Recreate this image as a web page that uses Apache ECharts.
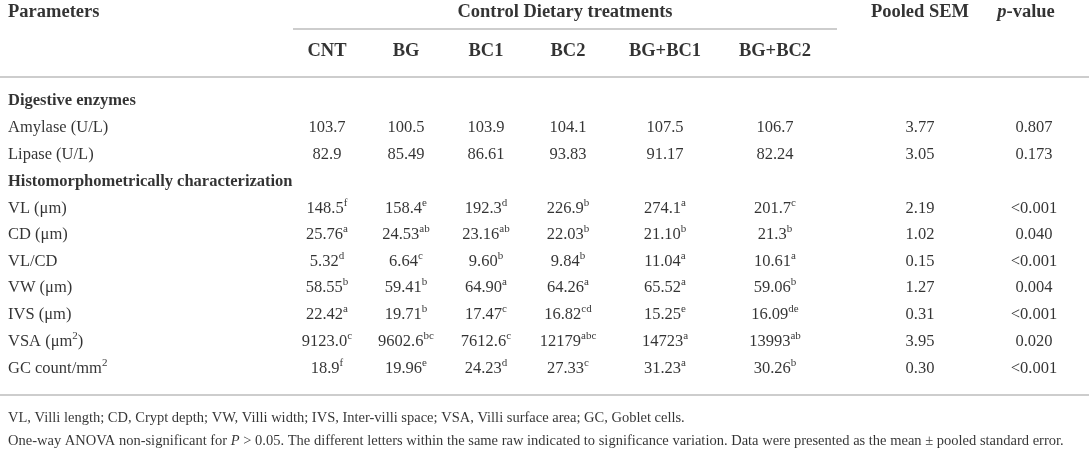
<!DOCTYPE html>
<html>
<head>
<meta charset="utf-8">
<script src="https://cdn.jsdelivr.net/npm/echarts@6/dist/echarts.min.js"></script>
<style>
  html, body { margin: 0; padding: 0; background: #fff; }
  #main { width: 1089px; height: 461px; }
</style>
</head>
<body>
<div id="main"></div>
<script>
// ---- table data ----
const treatments = ['CNT', 'BG', 'BC1', 'BC2', 'BG+BC1', 'BG+BC2'];
const sections = ['Digestive enzymes', 'Histomorphometrically characterization'];

const amylase = ['103.7', '100.5', '103.9', '104.1', '107.5', '106.7'];
const lipase = ['82.9', '85.49', '86.61', '93.83', '91.17', '82.24'];

const vl = ['148.5', '158.4', '192.3', '226.9', '274.1', '201.7'];
const vlSig = ['f', 'e', 'd', 'b', 'a', 'c'];
const cd = ['25.76', '24.53', '23.16', '22.03', '21.10', '21.3'];
const cdSig = ['a', 'ab', 'ab', 'b', 'b', 'b'];
const vlcd = ['5.32', '6.64', '9.60', '9.84', '11.04', '10.61'];
const vlcdSig = ['d', 'c', 'b', 'b', 'a', 'a'];
const vw = ['58.55', '59.41', '64.90', '64.26', '65.52', '59.06'];
const vwSig = ['b', 'b', 'a', 'a', 'a', 'b'];
const ivs = ['22.42', '19.71', '17.47', '16.82', '15.25', '16.09'];
const ivsSig = ['a', 'b', 'c', 'cd', 'e', 'de'];
const vsa = ['9123.0', '9602.6', '7612.6', '12179', '14723', '13993'];
const vsaSig = ['c', 'bc', 'c', 'abc', 'a', 'ab'];
const gc = ['18.9', '19.96', '24.23', '27.33', '31.23', '30.26'];
const gcSig = ['f', 'e', 'd', 'c', 'a', 'b'];

const pooledSem = ['3.77', '3.05', '2.19', '1.02', '0.15', '1.27', '0.31', '3.95', '0.30'];
const pValues = ['0.807', '0.173', '<0.001', '0.040', '<0.001', '0.004', '<0.001', '0.020', '<0.001'];

const footnotes = [
  'VL, Villi length; CD, Crypt depth; VW, Villi width; IVS, Inter-villi space; VSA, Villi surface area; GC, Goblet cells.',
  'One-way ANOVA non-significant for {i|P} > 0.05. The different letters within the same raw indicated to significance variation. Data were presented as the mean ± pooled standard error.'
];

// body rows: label, values, letters
const bodyRows = [
  ['Amylase (U/L)', amylase, null],
  ['Lipase (U/L)', lipase, null],
  ['VL (μm)', vl, vlSig],
  ['CD (μm)', cd, cdSig],
  ['VL/CD', vlcd, vlcdSig],
  ['VW (μm)', vw, vwSig],
  ['IVS (μm)', ivs, ivsSig],
  ['VSA (μm{s2|2})', vsa, vsaSig],
  ['GC count/mm{s2|2}', gc, gcSig]
];

// ---- layout (pixel space of the hidden axes) ----
const W = 1089, H = 461;
const labelX = 8;
const colX = [327, 406, 486, 568, 665, 775];
const semX = 920, semHeadX = 920, pX = 1034, pHeadX = 1026;
const groupLine = [293, 837];
const headY = 12, subHeadY = 51;
const sectionY = [101, 182];
const bodyY = [128, 155, 209, 235, 262, 288, 315, 342, 369];
const footY = [418, 441];
const rules = [
  [groupLine[0], groupLine[1], 29],
  [0, W, 77],
  [0, W, 395]
];

const ink = '#000';
const font = 'Liberation Serif';

const leftCells = [];
const centerCells = [];

leftCells.push([labelX, headY, '{hb|Parameters}']);
centerCells.push([(groupLine[0] + groupLine[1]) / 2, headY, '{hb|Control Dietary treatments}']);
centerCells.push([semHeadX, headY, '{hb|Pooled SEM}']);
centerCells.push([pHeadX, headY, '{hi|p}{hb|-value}']);
treatments.forEach((t, j) => centerCells.push([colX[j], subHeadY, '{hb|' + t + '}']));
sections.forEach((s, k) => leftCells.push([labelX, sectionY[k], '{b|' + s + '}']));

bodyRows.forEach((r, i) => {
  const y = bodyY[i];
  leftCells.push([labelX, y, '{v|' + r[0].replace('{s2|2}', '}{s2|2}{v|') + '}']);
  r[1].forEach((v, j) => {
    let txt = '{v|' + v + '}';
    if (r[2]) txt += '{s|' + r[2][j] + '}';
    centerCells.push([colX[j], y, txt]);
  });
  centerCells.push([semX, y, '{v|' + pooledSem[i] + '}']);
  centerCells.push([pX, y, '{v|' + pValues[i] + '}']);
});

footnotes.forEach((f, k) => {
  leftCells.push([labelX, footY[k], '{f|' + f.replace('{i|P}', '}{fi|P}{f|') + '}']);
});

const base = { fontFamily: font, color: ink, textBorderWidth: 0 };
const rich = {
  hb: Object.assign({}, base, { fontSize: 18.5, fontWeight: 'bold', lineHeight: 22 }),
  hi: Object.assign({}, base, { fontSize: 18.5, fontWeight: 'bold', fontStyle: 'italic', lineHeight: 22 }),
  b: Object.assign({}, base, { fontSize: 16.5, fontWeight: 'bold', lineHeight: 22 }),
  v: Object.assign({}, base, { fontSize: 16.5, lineHeight: 22 }),
  s: Object.assign({}, base, { fontSize: 11, lineHeight: 12, verticalAlign: 'top' }),
  s2: Object.assign({}, base, { fontSize: 11, lineHeight: 12, verticalAlign: 'top' }),
  f: Object.assign({}, base, { fontSize: 14.5, lineHeight: 20 }),
  fi: Object.assign({}, base, { fontSize: 14.5, fontStyle: 'italic', lineHeight: 20 })
};

const cellLabel = align => ({
  show: true,
  position: 'inside',
  align: align,
  verticalAlign: 'middle',
  color: ink,
  textBorderWidth: 0,
  textShadowBlur: 0,
  formatter: p => p.data[2],
  rich: rich
});

const chart = echarts.init(document.getElementById('main'), null, { renderer: 'canvas' });

chart.setOption({
  animation: false,
  backgroundColor: '#fff',
  grid: { left: 0, right: 0, top: 0, bottom: 0 },
  xAxis: { type: 'value', min: 0, max: W, show: false },
  yAxis: { type: 'value', min: 0, max: H, inverse: true, show: false },
  series: [
    {
      type: 'scatter',
      symbolSize: 0,
      silent: true,
      itemStyle: { color: ink },
      data: leftCells,
      label: cellLabel('left'),
      markLine: {
        silent: true,
        symbol: 'none',
        label: { show: false },
        lineStyle: { color: '#cdcdcd', width: 2, type: 'solid', opacity: 1 },
        data: rules.map(r => [{ coord: [r[0], r[2]] }, { coord: [r[1], r[2]] }])
      }
    },
    {
      type: 'scatter',
      symbolSize: 0,
      silent: true,
      itemStyle: { color: ink },
      data: centerCells,
      label: cellLabel('center')
    }
  ]
});
</script>
</body>
</html>
